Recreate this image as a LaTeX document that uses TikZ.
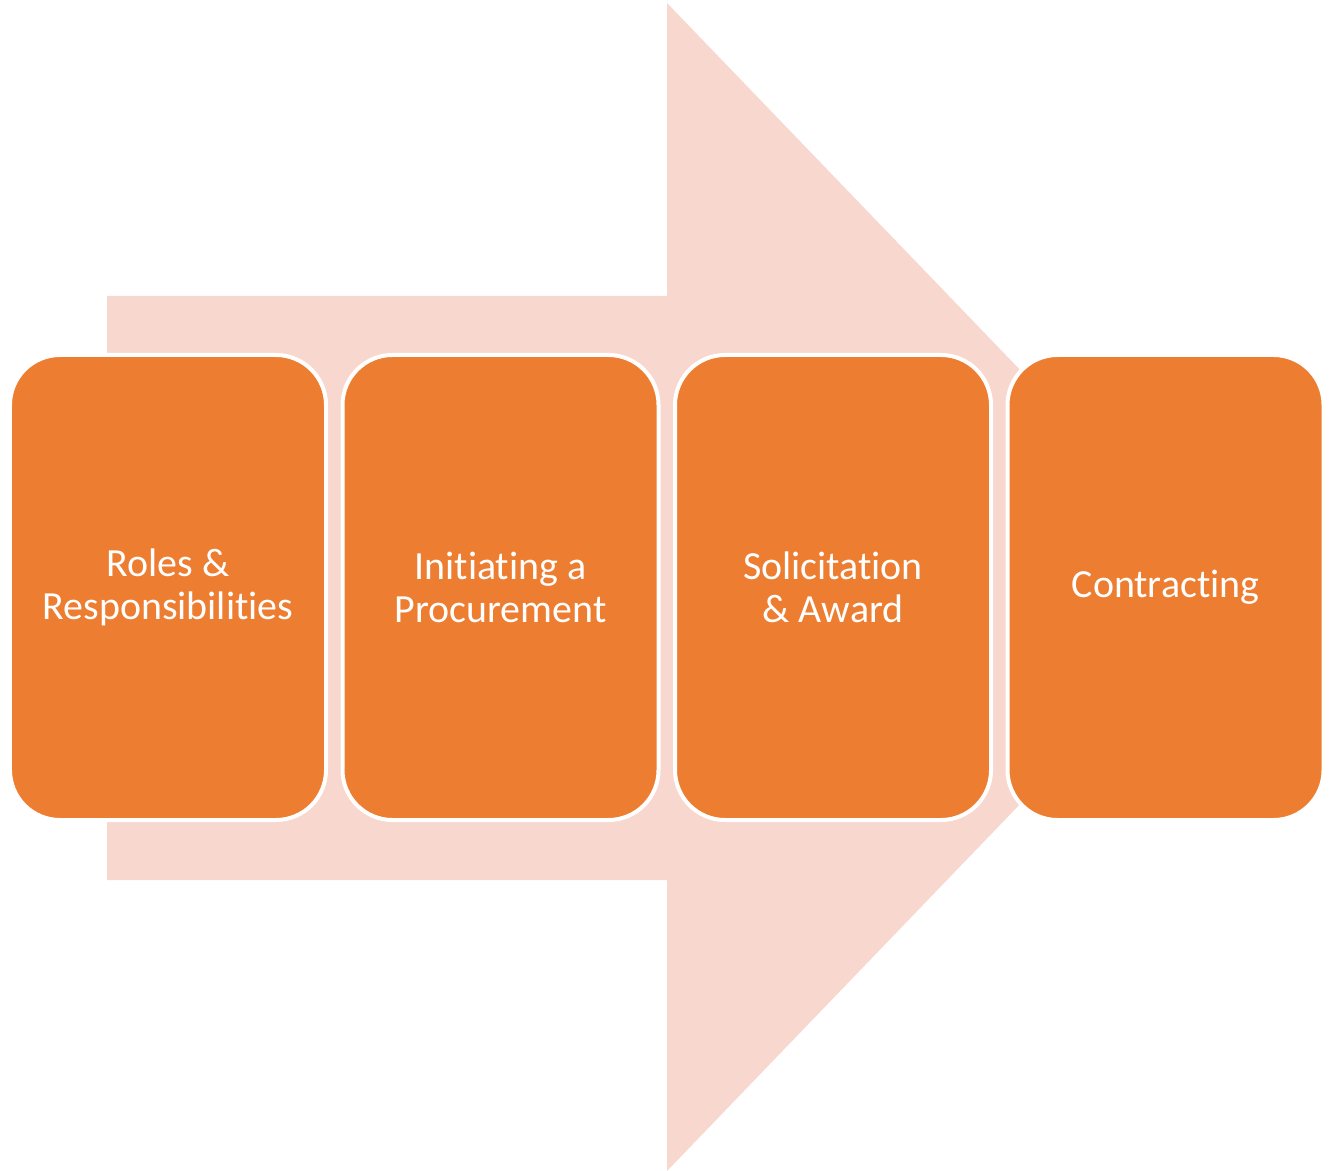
\documentclass[tikz,border=0pt]{standalone}
\usepackage{fontspec}
\setmainfont{Carlito}[Ligatures=NoCommon]
\usepackage{tikz}
\usetikzlibrary{positioning}
\usepackage{xcolor}
\definecolor{stageorange}{HTML}{ED7D31}
\definecolor{arrowpink}{HTML}{F8D8CE}

\begin{document}
\begin{tikzpicture}[
    x=0.2mm, y=-0.2mm,
    node distance=2.5mm,
    stagebox/.style={rectangle, draw=white, line width=0.8mm, fill=stageorange, text=white, align=center, rounded corners=10mm, minimum width=63.2mm, minimum height=93mm, font=\fontsize{22.7}{24.6}\selectfont},
    bigarrow/.style={fill=arrowpink}
]

\useasboundingbox (0,0) rectangle (1332,1171);

% background arrow
\fill[bigarrow] (107,296) -- (667,296) -- (667,3) -- (1229,587) -- (667,1171) -- (667,880) -- (107,880) -- cycle;

\node[stagebox] (stage1) at (168,587.5) {Roles \&\\Responsibilities};
\node[stagebox, right=of stage1] (stage2) {Initiating a\\Procurement};
\node[stagebox, right=of stage2] (stage3) {Solicitation\\\& Award};
\node[stagebox, right=of stage3] (stage4) {Contracting};

\end{tikzpicture}
\end{document}
